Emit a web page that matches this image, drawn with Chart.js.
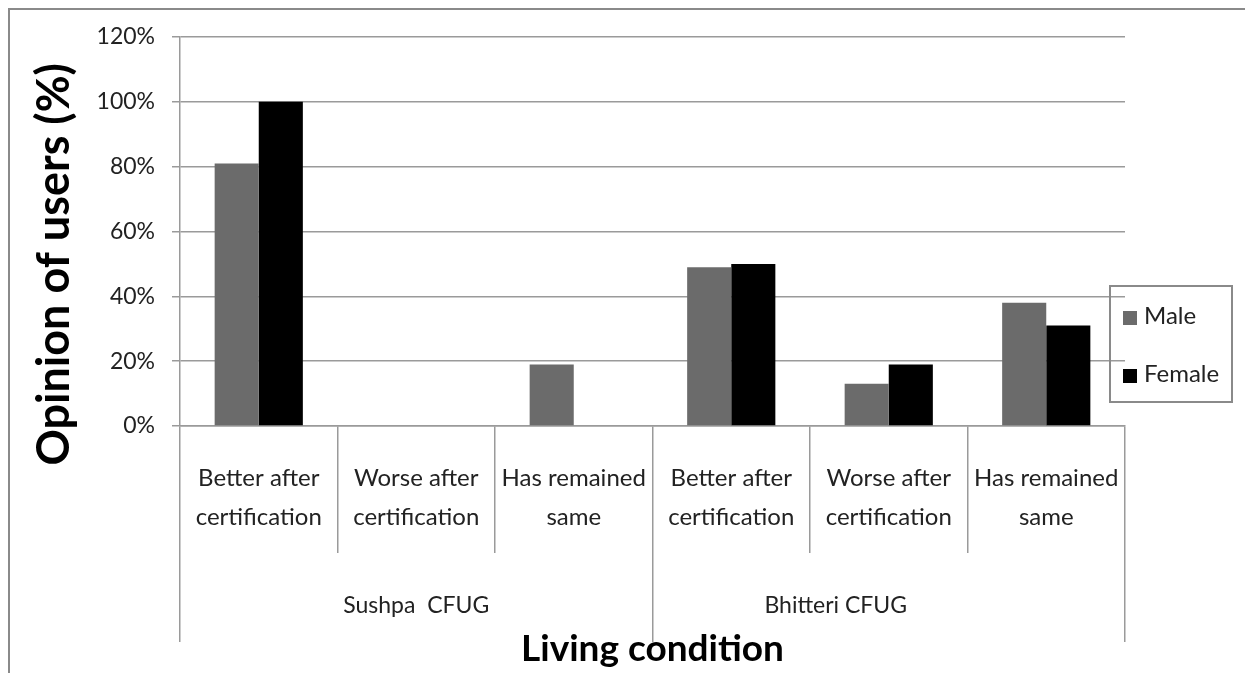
<!DOCTYPE html>
<html>
<head>
<meta charset="utf-8">
<script src="https://cdn.jsdelivr.net/npm/chart.js@4.4.0/dist/chart.umd.min.js"></script>
<style>
  body { margin: 0; background: #fff; }
  #wrap { position: relative; width: 1245px; height: 673px; }
  #frame { position: absolute; left: 8px; top: 8px; right: 0; bottom: 0;
           border-left: 2px solid #8a8a8a; border-top: 2px solid #8a8a8a; pointer-events: none; }
  #legend { position: absolute; left: 1109px; top: 285px; width: 120px; height: 114px;
            border: 2px solid #8a8a8a; font-family: Lato, sans-serif; font-size: 24px; color: #222; }
  #legend .row { position: absolute; left: 12px; height: 28px; line-height: 28px; white-space: nowrap; }
  #legend .box { display: inline-block; width: 14px; height: 14px; margin-right: 7px; vertical-align: -1px; }
</style>
</head>
<body>
<div id="wrap">
  <canvas id="chart" width="1245" height="673"></canvas>
  <div id="frame"></div>
  <div id="legend"></div>
</div>
<script>
var categories = [
  ['Better after', 'certification'],
  ['Worse after', 'certification'],
  ['Has remained', 'same'],
  ['Better after', 'certification'],
  ['Worse after', 'certification'],
  ['Has remained', 'same']
];
var groups = ['Sushpa  CFUG', 'Bhitteri CFUG'];
var maleValues = [81, 0, 19, 49, 13, 38];
var femaleValues = [100, 0, 0, 50, 19, 31];
var yMax = 120;
var yStep = 20;

var gridColor = '#9a9a9a';
var NBSP = '\u00a0';

var ctx = document.getElementById('chart');
var chart = new Chart(ctx, {
  type: 'bar',
  data: {
    labels: categories,
    datasets: [
      { label: 'Male', data: maleValues, backgroundColor: '#6b6b6b', categoryPercentage: 0.56, barPercentage: 1.0 },
      { label: 'Female', data: femaleValues, backgroundColor: '#000000', categoryPercentage: 0.56, barPercentage: 1.0 }
    ]
  },
  options: {
    responsive: false,
    animation: false,
    layout: { padding: { left: 10, right: 120, top: 37, bottom: 0 } },
    plugins: {
      legend: { display: false },
      tooltip: { enabled: false }
    },
    scales: {
      x: {
        weight: 0,
        offset: true,
        grid: { offset: true, drawOnChartArea: false, tickLength: 127, color: gridColor, lineWidth: 1.5 },
        border: { color: gridColor, width: 1.5 },
        ticks: {
          autoSkip: false, maxRotation: 0, padding: -94.5, color: '#222',
          font: { family: 'Lato', size: 24, lineHeight: 1.625 }
        },
        afterFit: function (s) { s.height = 127; }
      },
      x2: {
        type: 'category',
        position: 'bottom',
        weight: 1,
        labels: groups,
        offset: true,
        grid: { offset: true, drawOnChartArea: false, tickLength: 89, color: gridColor, lineWidth: 1.5 },
        border: { display: false },
        ticks: {
          autoSkip: false, maxRotation: 0, padding: -50.2, color: '#222',
          font: { family: 'Lato', size: 23, lineHeight: 1.2 },
          // the second group name sits left of its group centre in the original
          callback: function (v, i) { return i === 1 ? groups[i] + NBSP.repeat(18) : groups[i]; }
        },
        title: {
          display: true, text: 'Living condition', color: '#000',
          font: { family: 'Lato', size: 37, weight: 'bold', lineHeight: 1.2 },
          padding: { top: 0, bottom: 2 }
        },
        afterFit: function (s) { s.height = 120; }
      },
      y: {
        min: 0,
        max: yMax,
        ticks: {
          stepSize: yStep, padding: 17, color: '#222',
          font: { family: 'Lato', size: 23 },
          callback: function (v) { return v + '%'; }
        },
        grid: { color: gridColor, lineWidth: 1.5, tickLength: 8 },
        border: { color: gridColor, width: 1.5 },
        title: {
          display: true,
          text: 'Opinion of users (%)' + NBSP.repeat(6),
          color: '#000',
          font: { family: 'Lato', size: 45, weight: 'bold', lineHeight: 1.2 },
          padding: { top: 17, bottom: 0 }
        },
        afterFit: function (s) { s.width = 170; }
      }
    }
  }
});

// legend built from the datasets
var legendEl = document.getElementById('legend');
var rowTops = [14, 72];
chart.data.datasets.forEach(function (ds, i) {
  var row = document.createElement('div');
  row.className = 'row';
  row.style.top = rowTops[i] + 'px';
  var box = document.createElement('span');
  box.className = 'box';
  box.style.background = ds.backgroundColor;
  row.appendChild(box);
  row.appendChild(document.createTextNode(ds.label));
  legendEl.appendChild(row);
});
</script>
</body>
</html>
